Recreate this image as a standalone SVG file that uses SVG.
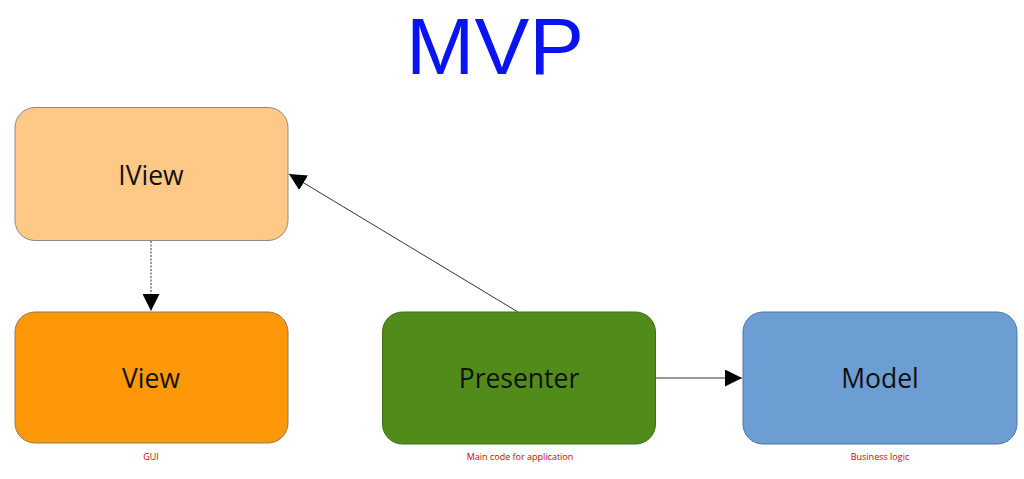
<svg xmlns="http://www.w3.org/2000/svg" width="1024" height="479" viewBox="0 0 1024 479">
<style>
.box{stroke-width:1}
.lbl{font-family:"Open Sans","Noto Sans","DejaVu Sans",sans-serif;font-size:26.5px;fill:#111;text-anchor:middle}
.cap{font-family:"Open Sans","Noto Sans","DejaVu Sans",sans-serif;font-size:9px;fill:#d40000;text-anchor:middle}
.conn{stroke:#333;stroke-width:1;fill:none}
</style>
<defs>
<marker id="ah" viewBox="0 0 10 10" refX="10" refY="5" markerWidth="17" markerHeight="17" markerUnits="userSpaceOnUse" orient="auto">
<path d="M0,0 L10,5 L0,10 z" fill="#000"/>
</marker>
</defs>
<rect width="1024" height="479" fill="#fff"/>
<text x="495" y="74" font-family="'Liberation Sans',Arial,sans-serif" font-size="80" fill="#0a14f0" text-anchor="middle" textLength="178" lengthAdjust="spacingAndGlyphs">MVP</text>
<g id="connectors">
<line class="conn" x1="151" y1="241" x2="151" y2="311" stroke="#222" stroke-dasharray="2,1.5" marker-end="url(#ah)"/>
<line class="conn" x1="518" y1="312" x2="289" y2="174" marker-end="url(#ah)"/>
<line class="conn" x1="656" y1="378" x2="742" y2="378" marker-end="url(#ah)"/>
</g>
<g id="iview">
<rect class="box" x="15" y="107.5" width="273" height="133" rx="20" fill="#fec986" stroke="#8a8a8a"/>
<text class="lbl" x="151" y="185">IView</text>
</g>
<g id="view">
<rect class="box" x="15" y="312" width="273" height="131" rx="20" fill="#fe9808" stroke="#8a7a60"/>
<text class="lbl" x="151" y="388">View</text>
<text class="cap" x="151" y="460">GUI</text>
</g>
<g id="presenter">
<rect class="box" x="382.5" y="312" width="273" height="132" rx="20" fill="#518c1a" stroke="#3d6e16"/>
<text class="lbl" x="519" y="388">Presenter</text>
<text class="cap" x="520" y="460">Main code for application</text>
</g>
<g id="model">
<rect class="box" x="743" y="312" width="274" height="132" rx="20" fill="#6c9dd3" stroke="#4c78aa"/>
<text class="lbl" x="880" y="388">Model</text>
<text class="cap" x="880" y="460">Business logic</text>
</g>
</svg>
